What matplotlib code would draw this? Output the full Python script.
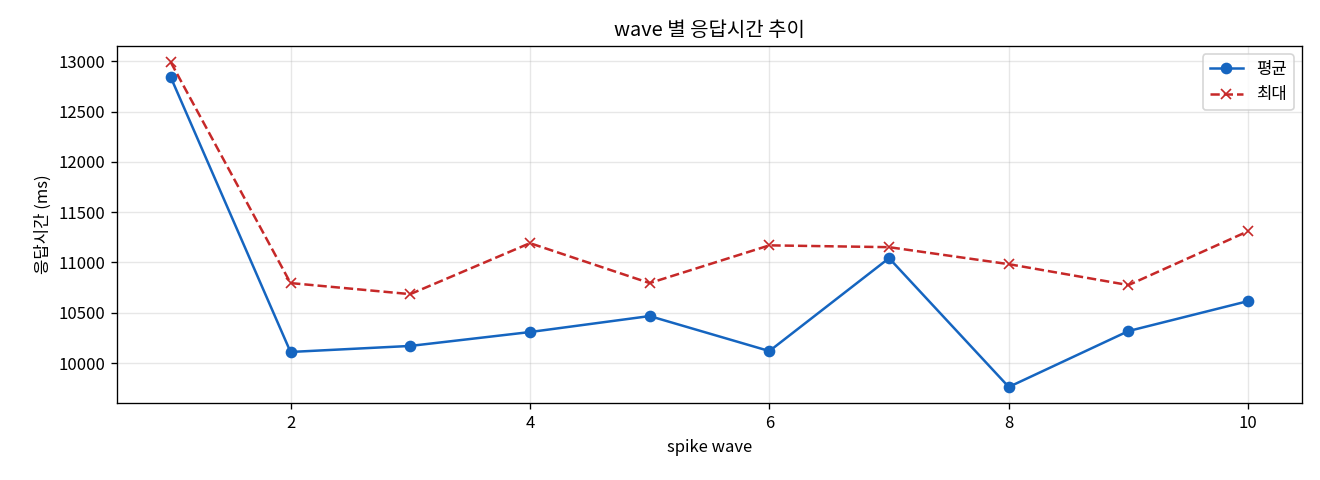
import matplotlib
matplotlib.use("Agg")
import matplotlib.pyplot as plt

plt.rcParams['font.family'] = ['Noto Sans CJK KR', 'DejaVu Sans']

waves = [1, 2, 3, 4, 5, 6, 7, 8, 9, 10]
avg_ms = [12840, 10110, 10170, 10308, 10467, 10119, 11043, 9762, 10318, 10616]
max_ms = [12990, 10795, 10685, 11192, 10795, 11170, 11152, 10983, 10775, 11311]

fig, ax = plt.subplots(figsize=(11, 4), dpi=120)
ax.plot(waves, avg_ms, marker="o", color="#1565C0", linewidth=1.5, markersize=6, label="평균")
ax.plot(waves, max_ms, marker="x", linestyle="--", color="#C62828", linewidth=1.5, markersize=6, label="최대")

ax.set_title("wave 별 응답시간 추이")
ax.set_xlabel("spike wave")
ax.set_ylabel("응답시간 (ms)")
ax.grid(True, alpha=0.3)
ax.legend(loc="upper right")

fig.subplots_adjust(left=0.0886, right=0.9864, top=0.904, bottom=0.160)
plt.savefig("out.png")
